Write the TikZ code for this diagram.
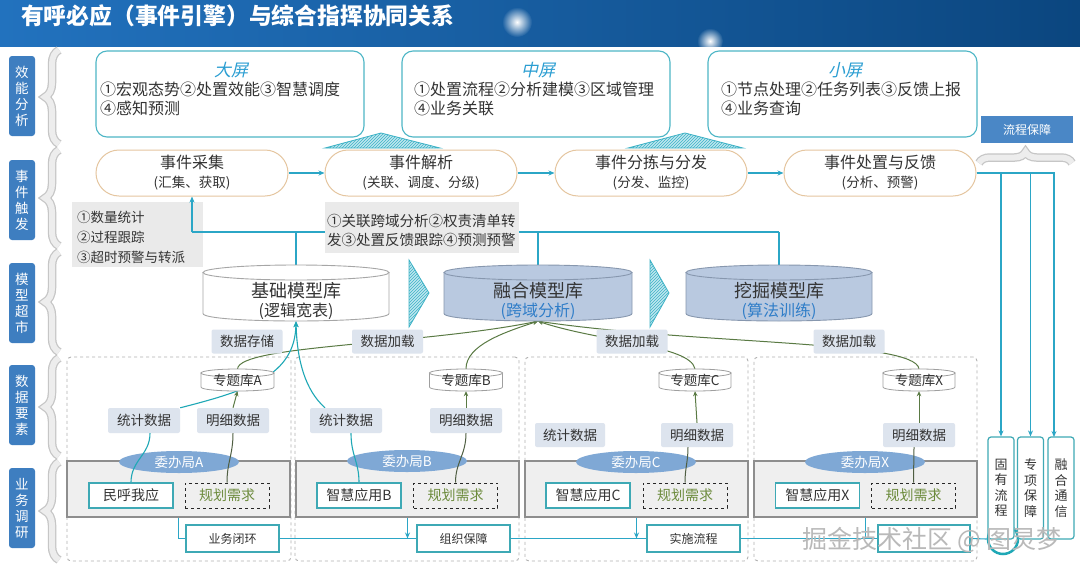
\documentclass[tikz,border=0pt]{standalone}
\usepackage{fontspec}
\setmainfont{Noto Sans CJK SC}
\newfontfamily\slantfont[FakeSlant=0.22]{Noto Sans CJK SC}
\usetikzlibrary{decorations.pathreplacing,patterns,fadings,arrows.meta,shapes.geometric}
\newcommand\fz[2]{\fontsize{#1}{#2}\selectfont}
\definecolor{cBarL}{HTML}{2272BE}
\definecolor{cBarR}{HTML}{0B467F}
\definecolor{cLbl}{HTML}{3E7EC0}
\definecolor{cScr}{HTML}{4DB6C6}
\definecolor{cScrT}{HTML}{2B9ED2}
\definecolor{cTxt}{HTML}{333333}
\definecolor{cTri}{HTML}{BFE7EF}
\definecolor{cTriD}{HTML}{3DB2C6}
\definecolor{cPill}{HTML}{E5C6A0}
\definecolor{cCy}{HTML}{2BA6C6}
\definecolor{cInfo}{HTML}{EAEAEA}
\definecolor{cCylB}{HTML}{B9C9E0}
\definecolor{cCylD}{HTML}{8797AE}
\definecolor{cSub}{HTML}{2F7DC8}
\definecolor{cLab}{HTML}{DDE4EE}
\definecolor{cBand}{HTML}{EFEFEF}
\definecolor{cBandD}{HTML}{8E8E8E}
\definecolor{cOval}{HTML}{7FA8D5}
\definecolor{cApp}{HTML}{3EA9B5}
\definecolor{cPlan}{HTML}{6C8B3C}
\definecolor{cOl}{HTML}{5A7A44}
\definecolor{cOlD}{HTML}{4F5E42}
\definecolor{cCyB}{HTML}{1FA8B6}
\definecolor{cFlow}{HTML}{4A87C6}
\pgfdeclarelayer{back}
\pgfdeclarelayer{mid}
\pgfsetlayers{back,mid,main}
\tikzfading[name=glowfade, inner color=transparent!0, outer color=transparent!100]
% cx, half width, top, bottom, ry, style
\newcommand\drawcyl[6]{%
  \path[#6] ({#1-#2},{#3+#5}) -- ({#1-#2},{#4-#5}) .. controls ({#1-#2},{#4-#5+1.333*#5}) and ({#1+#2},{#4-#5+1.333*#5}) .. ({#1+#2},{#4-#5}) -- ({#1+#2},{#3+#5}) -- cycle;
  \path[#6] (#1,{#3+#5}) ellipse [x radius=#2, y radius=#5];
}
\tikzset{
  lblbox/.style={fill=cLbl, rounded corners=3pt, minimum width=26pt, minimum height=80pt, inner sep=0pt, text=white, align=center, font=\fz{13.5}{16}},
  braceout/.style={decorate, decoration={brace, amplitude=#1}, line width=8.5pt, draw=gray!45},
  braceout/.default=14pt,
  bracein/.style={decorate, decoration={brace, amplitude=#1}, line width=6pt, draw=gray!14},
  bracein/.default=14pt,
  screen/.style={draw=cScr, line width=1.1pt, fill=white, rounded corners=11pt, inner sep=0pt},
  scrtitle/.style={font=\slantfont\fz{17}{20}, text=cScrT},
  scrline/.style={anchor=west, font=\fz{16}{19}, text=cTxt, inner sep=0pt},
  tri/.style={fill=cTri, draw=cTriD, line width=0.8pt},
  trihatch/.style={pattern=north east lines, pattern color=cTriD},
  pill/.style={draw=cPill, line width=1pt, fill=white, rounded corners=23pt, minimum width=192pt, minimum height=46pt, inner sep=0pt},
  pillmain/.style={font=\fz{16}{19}, text=cTxt, inner sep=0pt},
  pillsub/.style={font=\fz{13.5}{16}, text=cTxt, inner sep=0pt},
  arrc/.style={draw=cCy, line width=1.1pt, -{Stealth[length=6pt,width=5pt]}},
  linec/.style={draw=cCy, line width=1.1pt},
  infob/.style={fill=cInfo, inner sep=0pt},
  cylW/.style={draw=gray!70, fill=white, line width=0.9pt},
  cylB/.style={draw=cCylD, fill=cCylB, line width=0.9pt},
  cylS/.style={draw=gray!75, fill=white, line width=0.8pt},
  cylmain/.style={font=\fz{18}{21}, text=cTxt, inner sep=0pt},
  cylsub/.style={font=\fz{16}{18}, inner sep=0pt},
  dlabel/.style={fill=cLab, rounded corners=2pt, minimum width=71pt, minimum height=24pt, inner sep=0pt, font=\fz{13.5}{16}, text=cTxt},
  region/.style={draw=gray!60, dashed, line width=0.9pt, rounded corners=4pt, inner sep=0pt, minimum height=204pt},
  bandst/.style={fill=cBand, draw=cBandD, line width=1.2pt, inner sep=0pt, minimum width=223pt, minimum height=56pt},
  ovalst/.style={ellipse, fill=cOval, minimum width=120pt, minimum height=22pt, inner sep=0pt, text=white, font=\fz{13.5}{16}},
  appst/.style={draw=cApp, line width=1.2pt, fill=white, minimum width=84pt, minimum height=25pt, inner sep=0pt, font=\fz{14}{16}, text=cTxt},
  planst/.style={draw=gray!30!black, dashed, line width=1pt, minimum width=84pt, minimum height=25pt, inner sep=0pt, font=\fz{14}{16}, text=cPlan},
  smallbox/.style={draw=cApp, line width=1.2pt, fill=white, minimum width=93pt, minimum height=27pt, inner sep=0pt, font=\fz{12}{14}, text=cTxt},
  vbox/.style={draw=cApp, line width=1.2pt, fill=white, rounded corners=3pt, minimum width=26pt, minimum height=102pt, inner sep=0pt, align=center, font=\fz{13}{15.5}, text=cTxt},
  dbtext/.style={font=\fz{13.5}{16}, text=cTxt, inner sep=0pt},
  olarr/.style={draw=cOl, line width=1pt, -{Stealth[length=5pt,width=4.5pt]}},
  olline/.style={draw=cOlD, line width=1pt},
  cyarr/.style={draw=cCyB, line width=1.1pt, -{Stealth[length=6pt,width=5pt]}},
  cyline/.style={draw=cCyB, line width=1.1pt}
}
\begin{document}
\begin{tikzpicture}[x=1pt,y=-1pt]
\useasboundingbox (0,0) rectangle (1080,568);
\begin{pgfonlayer}{back}
\fill[white] (0,0) rectangle (1080,568);
\end{pgfonlayer}

% ---------- title bar ----------
\shade[left color=cBarL, right color=cBarR] (0,0) rectangle (1080,46);
\fill[white, path fading=glowfade] (517,22) circle (15);
\fill[white, path fading=glowfade] (710,41) circle (13);
\node[anchor=west, text=white, font=\fz{22.8}{26}\bfseries, inner sep=0pt] (title) at (21,16) {有呼必应（事件引擎）与综合指挥协同关系};

% ---------- left labels and braces ----------
\node[lblbox] (L1) at (22,96) {效\\能\\分\\析};
\node[lblbox] (L2) at (22,200) {事\\件\\触\\发};
\node[lblbox] (L3) at (22,303) {模\\型\\超\\市};
\node[lblbox] (L4) at (22,405) {数\\据\\要\\素};
\node[lblbox] (L5) at (22,508) {业\\务\\调\\研};
\foreach \a/\b in {50/144,150/246,252/352,358/456,462/560}{
  \draw[braceout] (59,\b) -- (59,\a);
  \draw[bracein] (59,\b) -- (59,\a);
}

% ---------- screens ----------
\node[screen, minimum width=268pt, minimum height=86pt] (s1) at (230,94) {};
\node[scrtitle] (s1t) at (231,70) {大屏};
\node[scrline] (s1a) at (100,89) {①宏观态势②处置效能③智慧调度};
\node[scrline] (s1b) at (100,108) {④感知预测};

\node[screen, minimum width=268pt, minimum height=86pt] (s2) at (536,94) {};
\node[scrtitle] (s2t) at (538,70) {中屏};
\node[scrline] (s2a) at (414,89) {①处置流程②分析建模③区域管理};
\node[scrline] (s2b) at (414,108) {④业务关联};

\node[screen, minimum width=269pt, minimum height=86pt] (s3) at (842.5,94) {};
\node[scrtitle] (s3t) at (845,70) {小屏};
\node[scrline] (s3a) at (721,89) {①节点处理②任务列表③反馈上报};
\node[scrline] (s3b) at (721,108) {④业务查询};

\path[tri] (325,148) -- (381,133) -- (440,148) -- cycle;
\path[trihatch] (325,148) -- (381,133) -- (440,148) -- cycle;
\path[tri] (628,148) -- (685,133) -- (743,148) -- cycle;
\path[trihatch] (628,148) -- (685,133) -- (743,148) -- cycle;

% flow guarantee
\node[fill=cFlow, minimum width=92pt, minimum height=27pt, inner sep=0pt, text=white, font=\fz{12}{14}] (flow) at (1027,129.5) {流程保障};
\draw[braceout=11pt] (979,163) -- (1072,163);
\draw[bracein=11pt] (979,163) -- (1072,163);

% ---------- event pills ----------
\node[pill] (e1) at (192,173) {};
\node[pillmain] (e1a) at (192,162) {事件采集};
\node[pillsub] (e1b) at (192,183) {(汇集、获取)};
\node[pill] (e2) at (421,173) {};
\node[pillmain] (e2a) at (421,162) {事件解析};
\node[pillsub] (e2b) at (421,183) {(关联、调度、分级)};
\node[pill] (e3) at (651,173) {};
\node[pillmain] (e3a) at (651,162) {事件分拣与分发};
\node[pillsub] (e3b) at (651,183) {(分发、监控)};
\node[pill] (e4) at (880,173) {};
\node[pillmain] (e4a) at (880,162) {事件处置与反馈};
\node[pillsub] (e4b) at (880,183) {(分析、预警)};

% ---------- info boxes ----------
\begin{pgfonlayer}{back}
\node[infob, minimum width=131pt, minimum height=65pt] (i1) at (137.5,234.5) {};
\end{pgfonlayer}
\node[anchor=west, align=left, font=\fz{13.5}{20}, text=cTxt, inner sep=0pt] (i1t) at (77,237) {①数量统计\\②过程跟踪\\③超时预警与转派};
\node[infob, minimum width=194pt, minimum height=51pt] (i2) at (422,227.5) {};
\node[anchor=west, align=left, font=\fz{14.5}{19.5}, text=cTxt, inner sep=0pt] (i2t) at (327,230.5) {①关联跨域分析②权责清单转\\发③处置反馈跟踪④预测预警};

% ---------- model library ----------
\drawcyl{296}{93}{265}{321}{7.5}{cylW}
\node[minimum width=186pt, minimum height=56pt, inner sep=0pt] (jc) at (296,293) {};
\node[cylmain] (jc1) at (296,291) {基础模型库};
\node[cylsub, text=cTxt] (jc2) at (296,311) {(逻辑宽表)};

\drawcyl{538}{94}{265}{321}{7.5}{cylB}
\node[minimum width=188pt, minimum height=56pt, inner sep=0pt] (rh) at (538,293) {};
\node[cylmain] (rh1) at (538,291) {融合模型库};
\node[cylsub, text=cSub] (rh2) at (538,311) {(跨域分析)};

\drawcyl{779}{93}{265}{321}{7.5}{cylB}
\node[minimum width=186pt, minimum height=56pt, inner sep=0pt] (wj) at (779,293) {};
\node[cylmain] (wj1) at (779,291) {挖掘模型库};
\node[cylsub, text=cSub] (wj2) at (779,311) {(算法训练)};

\path[tri] (409,260) -- (429,293) -- (409,327) -- cycle;
\path[trihatch] (409,260) -- (429,293) -- (409,327) -- cycle;
\path[tri] (650,260) -- (669,293) -- (650,327) -- cycle;
\path[trihatch] (650,260) -- (669,293) -- (650,327) -- cycle;

\node[dlabel] (ds) at (247,341.5) {数据存储};
\node[dlabel] (dl1) at (387.5,341.5) {数据加载};
\node[dlabel] (dl2) at (632,341.5) {数据加载};
\node[dlabel] (dl3) at (849,341.5) {数据加载};

% ---------- data / business regions ----------
\begin{pgfonlayer}{back}
\node[region, minimum width=224pt] (dA) at (179,459) {};
\node[region, minimum width=224pt] (dB) at (407,459) {};
\node[region, minimum width=223pt] (dC) at (636.5,459) {};
\node[region, minimum width=223pt] (dX) at (865.5,459) {};
\node[bandst] (bandA) at (178.5,489) {};
\node[bandst] (bandB) at (407.5,489) {};
\node[bandst] (bandC) at (636.5,489) {};
\node[bandst] (bandX) at (865.5,489) {};
\node[ovalst] (oA) at (179,462) {委办局A};
\node[ovalst] (oB) at (407,461) {委办局B};
\node[ovalst] (oC) at (636,462) {委办局C};
\node[ovalst] (oX) at (865,462) {委办局X};
\end{pgfonlayer}

\node[appst] (apA) at (131,495.5) {民呼我应};
\node[planst] (pA) at (227,495.5) {规划需求};
\node[appst] (apB) at (359,495.5) {智慧应用B};
\node[planst] (pB) at (455.5,495.5) {规划需求};
\node[appst] (apC) at (588,495.5) {智慧应用C};
\node[planst] (pC) at (685,495.5) {规划需求};
\node[appst] (apX) at (817.5,495.5) {智慧应用X};
\node[planst] (pX) at (913.5,495.5) {规划需求};

\node[dlabel, minimum width=72pt, minimum height=25pt] (sA) at (144,420.5) {统计数据};
\node[dlabel, minimum width=72pt, minimum height=25pt] (mA) at (233,420.5) {明细数据};
\node[dlabel, minimum width=72pt, minimum height=25pt] (sB) at (346,420.5) {统计数据};
\node[dlabel, minimum width=72pt, minimum height=25pt] (mB) at (466,420.5) {明细数据};
\node[dlabel, minimum width=70pt, minimum height=24pt] (sC) at (570,435) {统计数据};
\node[dlabel, minimum width=72pt, minimum height=24pt] (mC) at (697,435) {明细数据};
\node[dlabel, minimum width=72pt, minimum height=24pt] (mX) at (919,435) {明细数据};

\drawcyl{237.5}{36.5}{369}{391}{4}{cylS}
\node[dbtext, minimum width=73pt, minimum height=22pt] (zA) at (237.5,380) {专题库A};
\drawcyl{466}{36.5}{369}{391}{4}{cylS}
\node[dbtext, minimum width=73pt, minimum height=22pt] (zB) at (466,380) {专题库B};
\drawcyl{695}{36}{369}{391}{4}{cylS}
\node[dbtext, minimum width=72pt, minimum height=22pt] (zC) at (695,380) {专题库C};
\drawcyl{919}{36}{369}{391}{4}{cylS}
\node[dbtext, minimum width=72pt, minimum height=22pt] (zX) at (919,380) {专题库X};

\node[smallbox] (b1) at (232.5,538.5) {业务闭环};
\node[smallbox] (b2) at (463.5,538.5) {组织保障};
\node[smallbox] (b3) at (693.5,538.5) {实施流程};
\node[smallbox, minimum width=92pt] (b4) at (924,538.5) {};
\node[circle, draw=cCyB, line width=2.5pt, minimum size=30pt, inner sep=0pt] (ring) at (1003,539) {};

\node[vbox] (v1) at (1001,488) {固\\有\\流\\程};
\node[vbox] (v2) at (1030.5,488) {专\\项\\保\\障};
\node[vbox] (v3) at (1061,488) {融\\合\\通\\信};

% ---------- connectors ----------
\begin{pgfonlayer}{mid}
\draw[arrc] (e1.east) -- (e2.west);
\draw[arrc] (e2.east) -- (e3.west);
\draw[arrc] (e3.east) -- (e4.west);
\coordinate (hL) at (192,232);
\coordinate (hR) at (779,232);
\draw[linec] (hL) -- (hR);
\draw[arrc] (hL) -- (e1.south);
\draw[linec] (jc.north |- hL) -- (jc.north);
\draw[linec] (rh.north |- hL) -- (rh.north);
\draw[linec] (hR) -- (wj.north);
\coordinate (r3n) at (1054,437);
\draw[arrc] (e4.east) -| (v1.north);
\draw[arrc] (e4.east) -| (v2.north);
\draw[arrc] (e4.east) -| (r3n);

% data -> models
\draw[olarr] (mA.north) -- (zA.south);
\draw[olarr] (mB.north) -- (zB.south);
\draw[olarr] (mC.north) -- (zC.south);
\draw[olarr] (mX.north) -- (zX.south);
\draw[olarr] (zA.north) .. controls (240,345) and (420,345) .. (rh.south);
\draw[olarr] (zB.north) .. controls (466,345) and (505,332) .. (rh.south);
\draw[olarr] (zC.north) .. controls (690,345) and (600,342) .. (rh.south);
\draw[olarr] (zX.north) .. controls (915,340) and (700,345) .. (rh.south);
\draw[cyarr] (sA.north east) .. controls (250,390) and (295,375) .. (jc.south);
\draw[cyarr] ([xshift=-21pt]sB.north) .. controls (305,390) and (297,360) .. (jc.south);
\draw[cyline] (apA.north) .. controls (131,460) and (150,455) .. ([xshift=6pt]sA.south);
\draw[cyline] (apB.north) .. controls (359,462) and (351,455) .. ([xshift=5pt]sB.south);
\draw[olline] (mA.south) .. controls (233,455) and (227,462) .. (pA.north);
\draw[olline] (mB.south) .. controls (466,455) and (455.5,462) .. (pB.north);
\draw[olline] ([xshift=-9pt]mC.south) .. controls (688,462) and (685,468) .. (pC.north);
\draw[olline] ([xshift=-5pt]mX.south) .. controls (914,462) and (913.5,468) .. (pX.north);

% business loop line
\draw[linec] (bandA.south) |- (b1.west);
\draw[linec] (b1.east) -- (b2.west);
\draw[arrc] (bandB.south) -- (bandB.south |- b2.west);
\draw[linec] (b2.east) -- (b3.west);
\draw[arrc] (bandC.south) -- (bandC.south |- b3.west);
\draw[linec] (b3.east) -- (b4.west);
\draw[linec] (bandX.south) -- (bandX.south |- b4.west);
\draw[linec] (b4.east) -- (ring.west);
\end{pgfonlayer}

% watermark
\node[font=\fz{25}{28}, text=gray!55, inner sep=0pt] (wm) at (932,540) {掘金技术社区 @ 图灵梦};
\end{tikzpicture}
\end{document}
